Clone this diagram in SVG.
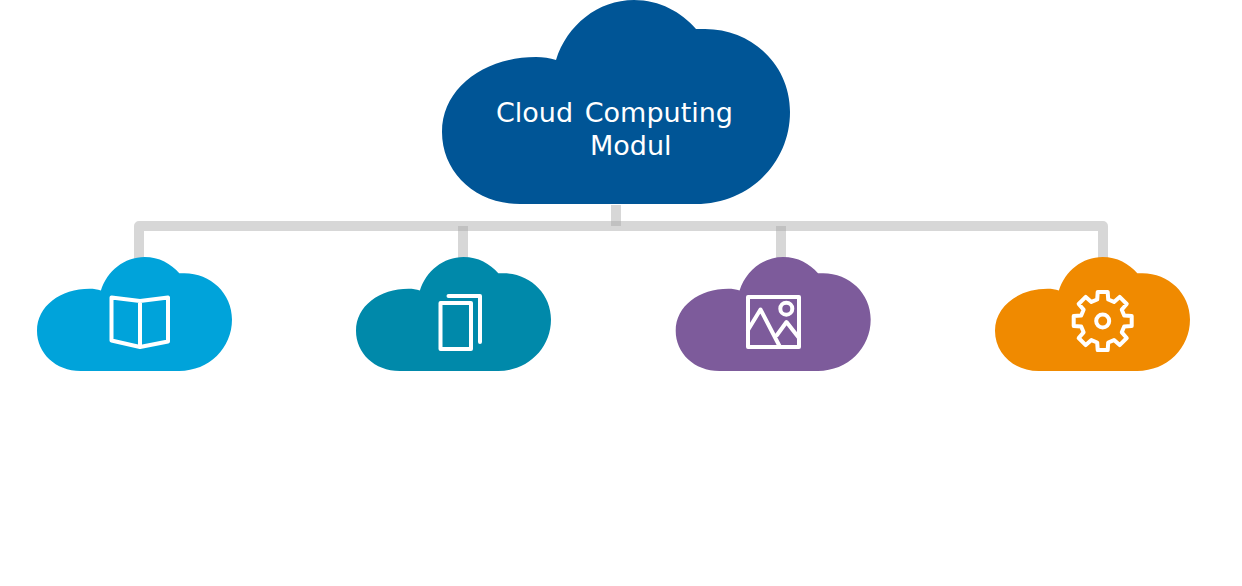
<svg xmlns="http://www.w3.org/2000/svg" xmlns:xlink="http://www.w3.org/1999/xlink" width="1242" height="586" viewBox="0 0 1242 586">
<style>
.ln{fill:none;stroke:#a6a6a6;stroke-opacity:.45;stroke-width:10;stroke-linejoin:round}
.ic{fill:none;stroke:#fff;stroke-width:4;stroke-linejoin:round;stroke-linecap:round}
.t{font-family:"DejaVu Sans",Verdana,sans-serif;font-size:27px;word-spacing:3px;fill:#fff}
</style>
<defs>
<path id="cloud" d="M78 204C33 204 0 172 0 132C0 88 42 57 94 57C101 57 108 58 114 60C125 25 156 0 192 0C218 0 239 12 254 29L263 29C310 29 348 65 348 112C348 163 307 204 254 204Z"/>
</defs>
<rect width="1242" height="586" fill="#fff"/>
<g id="connectors">
<path class="ln" d="M139 262V226H1103V262"/>
<path class="ln" d="M616 205V226"/>
<path class="ln" d="M463 226V262"/>
<path class="ln" d="M781 226V262"/>
</g>
<g id="node-root">
<use href="#cloud" x="442" y="0" fill="#005596"/>
<text class="t" x="496" y="122">Cloud Computing</text>
<text class="t" x="590" y="155">Modul</text>
</g>
<g id="node-book">
<use href="#cloud" transform="translate(37 257) scale(.5603 .5588)" fill="#00A3DA"/>
<path class="ic" d="M111.500 297.500L140 301L168 297.500V341.500L140 347L111.500 340.500ZM140 301V347"/>
</g>
<g id="node-documents">
<use href="#cloud" transform="translate(356 257) scale(.5603 .5588)" fill="#0089AA"/>
<rect class="ic" x="440.500" y="303" width="30.500" height="46"/>
<path class="ic" d="M448.500 296H480V342"/>
</g>
<g id="node-image">
<use href="#cloud" transform="translate(675.700 257) scale(.5603 .5588)" fill="#7D5B9B"/>
<rect class="ic" x="748" y="297" width="51" height="50"/>
<circle class="ic" cx="786.300" cy="308.700" r="6"/>
<path class="ic" d="M748 330L760.500 309.500L780 347M777 335L786.500 322L799 338"/>
</g>
<g id="node-gear">
<use href="#cloud" transform="translate(995 257) scale(.5603 .5588)" fill="#F08A00"/>
<g transform="translate(1102.700 321)">
<path class="ic" d="M-5.500-21.500L-5-29H5L5.500-21.500L11.310-19.090L16.970-24.040L24.040-16.970L19.090-11.310L21.500-5.500L29-5V5L21.500 5.500L19.090 11.310L24.040 16.970L16.970 24.040L11.310 19.090L5.500 21.500L5 29H-5L-5.500 21.500L-11.310 19.090L-16.970 24.040L-24.040 16.970L-19.090 11.310L-21.500 5.500L-29 5V-5L-21.500-5.500L-19.090-11.310L-24.040-16.970L-16.970-24.040L-11.310-19.090Z"/>
<circle class="ic" r="6.500"/>
</g>
</g>
</svg>
